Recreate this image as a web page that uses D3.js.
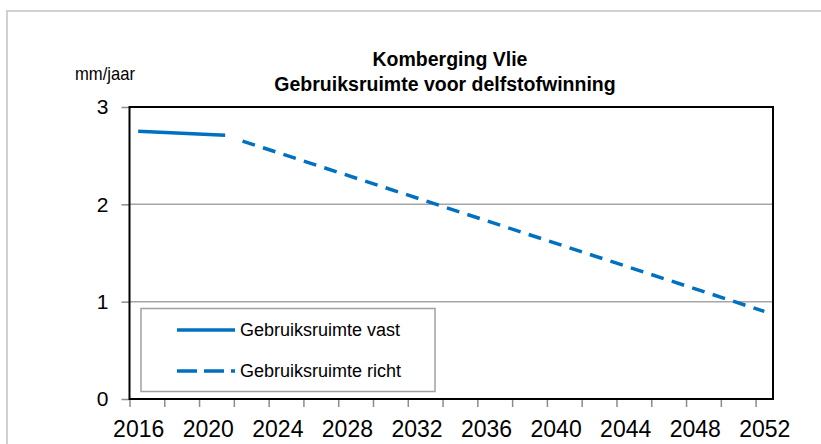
<!DOCTYPE html>
<html>
<head>
<meta charset="utf-8">
<script src="https://cdn.jsdelivr.net/npm/d3@7"></script>
<style>
  body { margin: 0; background: #fff; }
  svg text { font-family: "Liberation Sans", Arial, sans-serif; fill: #000; }
</style>
</head>
<body>
<script>
// data
var vastYears = [2016, 2021];
var vastValues = [2.75, 2.71];
var richtYears = [2022, 2052];
var richtValues = [2.65, 0.90];
var tickYears = [2016, 2018, 2020, 2022, 2024, 2026, 2028, 2030, 2032, 2034, 2036,
                 2038, 2040, 2042, 2044, 2046, 2048, 2050, 2052];
var labelYears = [2016, 2020, 2024, 2028, 2032, 2036, 2040, 2044, 2048, 2052];
var yTicks = [0, 1, 2, 3];
var seriesNames = ["Gebruiksruimte vast", "Gebruiksruimte richt"];

var width = 821, height = 444;
var plot = {left: 129.5, top: 107, right: 773, bottom: 399};
var blue = "#0070c0";

var svg = d3.select("body")
    .append("svg")
    .attr("width", width)
    .attr("height", height);

// outer chart frame (only top and left visible)
svg.append("path")
    .attr("d", "M7,444 L7,11 L821,11")
    .attr("fill", "none")
    .attr("stroke", "#d0d0d0")
    .attr("stroke-width", 2);

// scales: each year is a category band, points sit in the middle
var x = d3.scaleLinear()
    .domain([2016, 2053])
    .range([plot.left, plot.right]);
var y = d3.scaleLinear()
    .domain([0, 3])
    .range([plot.bottom, plot.top]);

// gridlines
svg.append("g")
    .selectAll("line")
    .data([1, 2])
    .enter()
    .append("line")
    .attr("x1", plot.left)
    .attr("x2", plot.right)
    .attr("y1", function (d) { return y(d); })
    .attr("y2", function (d) { return y(d); })
    .attr("stroke", "#a6a6a6")
    .attr("stroke-width", 1.5);

// Y axis
var yAxis = svg.append("g")
    .attr("transform", "translate(" + plot.left + ",0)")
    .call(d3.axisLeft(y).tickValues(yTicks).tickFormat(d3.format("d"))
        .tickSize(8).tickSizeOuter(0).tickPadding(13));
yAxis.select(".domain").remove();
yAxis.selectAll("line").attr("stroke", "#8c8c8c").attr("stroke-width", 1.5);
yAxis.selectAll("text").style("font-size", "21px").attr("font-family", null);

// X axis tick marks between categories
var xAxis = svg.append("g")
    .attr("transform", "translate(0," + plot.bottom + ")")
    .call(d3.axisBottom(x).tickValues(tickYears).tickSize(8).tickSizeOuter(0).tickFormat(""));
xAxis.select(".domain").remove();
xAxis.selectAll("line").attr("stroke", "#8c8c8c").attr("stroke-width", 1.5);

// X axis labels centred on their category
var xLabels = svg.append("g")
    .attr("transform", "translate(0," + plot.bottom + ")")
    .call(d3.axisBottom(x).tickValues(labelYears.map(function (d) { return d + 0.5; }))
        .tickSize(0).tickPadding(22)
        .tickFormat(function (d) { return String(d - 0.5); }));
xLabels.select(".domain").remove();
xLabels.selectAll("text").style("font-size", "23px").attr("font-family", null);

// plot border
svg.append("rect")
    .attr("x", plot.left)
    .attr("y", plot.top)
    .attr("width", plot.right - plot.left)
    .attr("height", plot.bottom - plot.top)
    .attr("fill", "none")
    .attr("stroke", "#000")
    .attr("stroke-width", 2);

var line = d3.line()
    .x(function (d) { return x(d[0] + 0.5); })
    .y(function (d) { return y(d[1]); });

svg.append("path")
    .datum(d3.zip(vastYears, vastValues))
    .attr("d", line)
    .attr("fill", "none")
    .attr("stroke", blue)
    .attr("stroke-width", 3.5);

svg.append("path")
    .datum(d3.zip(richtYears, richtValues))
    .attr("d", line)
    .attr("fill", "none")
    .attr("stroke", blue)
    .attr("stroke-width", 3.5)
    .attr("stroke-dasharray", "13,8.5");

// legend
var legend = svg.append("g");
legend.append("rect")
    .attr("x", 141)
    .attr("y", 308.5)
    .attr("width", 294)
    .attr("height", 83)
    .attr("fill", "#fff")
    .attr("stroke", "#a0a0a0")
    .attr("stroke-width", 1.5);

var items = legend.selectAll(".item")
    .data(seriesNames)
    .enter()
    .append("g")
    .attr("class", "item")
    .attr("transform", function (d, i) { return "translate(0," + (330 + i * 41) + ")"; });
items.append("line")
    .attr("x1", 177)
    .attr("x2", 235)
    .attr("stroke", blue)
    .attr("stroke-width", 3.5)
    .attr("stroke-dasharray", function (d, i) { return i ? "20,7" : null; });
items.append("text")
    .attr("x", 240)
    .attr("dy", "0.35em")
    .style("font-size", "18px")
    .text(function (d) { return d; });

// titles
svg.append("text")
    .attr("x", 450)
    .attr("y", 66)
    .attr("text-anchor", "middle")
    .style("font-size", "19.5px")
    .style("font-weight", "bold")
    .text("Komberging Vlie");
svg.append("text")
    .attr("x", 445)
    .attr("y", 91)
    .attr("text-anchor", "middle")
    .style("font-size", "19.5px")
    .style("font-weight", "bold")
    .text("Gebruiksruimte voor delfstofwinning");
svg.append("text")
    .attr("x", 75)
    .attr("y", 80)
    .style("font-size", "19px")
    .attr("textLength", 60)
    .attr("lengthAdjust", "spacingAndGlyphs")
    .text("mm/jaar");
</script>
</body>
</html>
